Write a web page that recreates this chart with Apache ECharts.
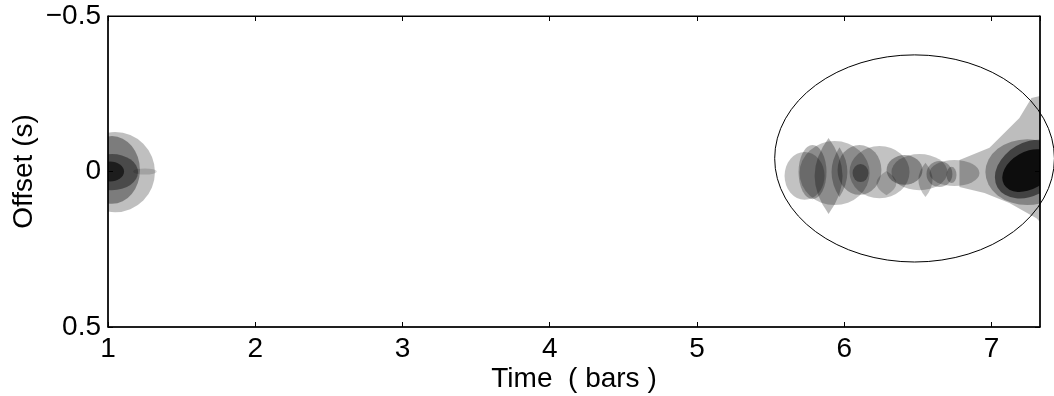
<!DOCTYPE html>
<html><head><meta charset="utf-8">
<script src="https://cdn.jsdelivr.net/npm/echarts@6/dist/echarts.min.js"></script>
<style>html,body{margin:0;padding:0;background:#fff}#c{width:1054px;height:396px}</style>
</head><body><div id="c"></div>
<script>
// X axis (time in bars) and Y axis (offset in seconds)
const xTicks = [1, 2, 3, 4, 5, 6, 7];
const xRange = [1, 7.33];
const yTicks = [-0.5, 0, 0.5];
const yRange = [-0.5, 0.5];

// density blobs: centre (bars, s), half width (bars), half height (s), darkness, shape, tilt (deg)
const blobX = [1.048, 1.027, 1.027, 1.014, 1.251,
  5.731, 5.935, 6.240, 6.511, 6.749,
  5.785, 5.894, 5.968, 6.104, 6.111, 6.410, 6.287, 6.552, 6.647, 6.729,
  7.244, 7.258, 7.250];
const blobY = [0.002, -0.005, 0.002, 0.000, 0.000,
  0.014, 0.005, 0.002, 0.002, 0.005,
  0.002, 0.0145, 0.002, -0.005, 0.005, -0.005, 0.037, 0.027, 0.008, 0.011,
  0.002, -0.008, -0.003];
const blobW = [0.271, 0.190, 0.177, 0.095, 0.081,
  0.136, 0.238, 0.204, 0.190, 0.170,
  0.095, 0.095, 0.054, 0.149, 0.054, 0.122, 0.068, 0.048, 0.088, 0.034,
  0.285, 0.250, 0.190];
const blobH = [0.129, 0.109, 0.058, 0.032, 0.010,
  0.077, 0.103, 0.084, 0.058, 0.042,
  0.087, 0.122, 0.080, 0.080, 0.029, 0.048, 0.039, 0.055, 0.042, 0.026,
  0.106, 0.085, 0.060];
const blobDark = [0.25, 0.35, 0.4, 0.6, 0.15,
  0.24, 0.24, 0.24, 0.24, 0.24,
  0.28, 0.28, 0.28, 0.28, 0.35, 0.32, 0.2, 0.24, 0.28, 0.28,
  0.3, 0.5, 0.8];
const blobShape = ['e', 'e', 'e', 'e', 'e',
  'e', 'e', 'e', 'e', 'e',
  'e', 'l', 'l', 'e', 'e', 'e', 'l', 'l', 'e', 'e',
  'e', 'e', 'e'];
const blobTilt = [0, 0, 0, 0, 0,
  0, 0, 0, 0, 0,
  0, 0, 0, 0, 0, 0, 0, 0, 0, 0,
  0, -30, -30];

// light wedge at the right end
const wedgeX = [6.783, 6.987, 7.190, 7.272, 7.33, 7.33, 7.306, 7.122, 6.953, 6.783];
const wedgeY = [-0.037, -0.076, -0.172, -0.236, -0.243, 0.162, 0.150, 0.101, 0.069, 0.050];
const wedgeDark = 0.26;

// annotation ellipse: centre, half width, half height
const ringC = [6.478, -0.042];
const ringR = [0.950, 0.333];

const blobData = blobX.map((x, i) => [x, blobY[i], blobW[i], blobH[i], blobDark[i], blobShape[i] === 'l' ? 1 : 0, blobTilt[i]]);

function ellPath(rx, ry) {
  return 'M ' + (-rx) + ' 0 A ' + rx + ' ' + ry + ' 0 1 0 ' + rx + ' 0 A ' + rx + ' ' + ry + ' 0 1 0 ' + (-rx) + ' 0 Z';
}
function lensPath(w, h) {
  return 'M 0 ' + (-h) + ' Q ' + (2 * w) + ' 0 0 ' + h + ' Q ' + (-2 * w) + ' 0 0 ' + (-h) + ' Z';
}
function clipRect(params) {
  const cs = params.coordSys;
  return {type: 'rect', shape: {x: cs.x, y: cs.y, width: cs.width, height: cs.height}};
}

const font = 'Liberation Sans, Arial, Helvetica, sans-serif';
const fmtY = v => (v < 0 ? '\u2212' + Math.abs(v) : String(v));

const chart = echarts.init(document.getElementById('c'), null, {renderer: 'canvas'});
chart.setOption({
  backgroundColor: '#fff',
  animation: false,
  grid: {left: 108, top: 16, right: 14, bottom: 69, containLabel: false, outerBoundsMode: 'none',
    show: true, borderColor: '#000', borderWidth: 1, backgroundColor: 'transparent'},
  xAxis: [{
    type: 'value', min: xRange[0], max: xRange[1], interval: 1, position: 'bottom',
    axisLine: {show: true, onZero: false, lineStyle: {color: '#000', width: 1.5}},
    axisTick: {show: true, inside: true, length: 5, lineStyle: {color: '#000'}},
    axisLabel: {color: '#000', fontSize: 28, fontFamily: font, margin: 8,
      formatter: v => (xTicks.indexOf(v) >= 0 ? String(v) : ''), showMaxLabel: false},
    splitLine: {show: false},
    name: 'Time  ( bars )', nameLocation: 'middle', nameGap: 38, nameMoveOverlap: false,
    nameTextStyle: {color: '#000', fontSize: 28, fontFamily: font}
  }, {
    type: 'value', min: xRange[0], max: xRange[1], interval: 1, position: 'top',
    axisLine: {show: true, onZero: false, lineStyle: {color: '#000', width: 1}},
    axisTick: {show: true, inside: true, length: 5, lineStyle: {color: '#000'}},
    axisLabel: {show: false}, splitLine: {show: false}
  }],
  yAxis: [{
    type: 'value', min: yRange[0], max: yRange[1], interval: 0.5, inverse: true, position: 'left',
    axisLine: {show: true, onZero: false, lineStyle: {color: '#000', width: 1.5}},
    axisTick: {show: true, inside: true, length: 5, lineStyle: {color: '#000'}},
    axisLabel: {color: '#000', fontSize: 28, fontFamily: font, margin: 7,
      formatter: v => (yTicks.indexOf(v) >= 0 ? fmtY(v) : '')},
    splitLine: {show: false},
    name: 'Offset (s)', nameLocation: 'middle', nameGap: 70, nameRotate: 90, nameMoveOverlap: false,
    nameTextStyle: {color: '#000', fontSize: 28, fontFamily: font}
  }, {
    type: 'value', min: yRange[0], max: yRange[1], interval: 0.5, inverse: true, position: 'right',
    axisLine: {show: true, onZero: false, lineStyle: {color: '#000', width: 1.5}},
    axisTick: {show: true, inside: true, length: 5, lineStyle: {color: '#000'}},
    axisLabel: {show: false}, splitLine: {show: false}
  }],
  series: [{
    type: 'custom', clip: true, xAxisIndex: 0, yAxisIndex: 0,
    data: [[wedgeX[0], wedgeY[0]]],
    encode: {x: 0, y: 1},
    renderItem: function (params, api) {
      const pts = wedgeX.map((x, i) => api.coord([x, wedgeY[i]]));
      return {type: 'group', clipPath: clipRect(params), children: [
        {type: 'polygon', shape: {points: pts}, style: {fill: 'rgba(0,0,0,' + wedgeDark + ')', stroke: null}}
      ]};
    },
    z: 2
  }, {
    type: 'custom', clip: true, xAxisIndex: 0, yAxisIndex: 0,
    data: blobData,
    encode: {x: 0, y: 1},
    renderItem: function (params, api) {
      const c = api.coord([api.value(0), api.value(1)]);
      const s = api.size([api.value(2), api.value(3)]);
      const w = Math.abs(s[0]), h = Math.abs(s[1]);
      const lens = api.value(5) === 1;
      return {type: 'group', clipPath: clipRect(params), children: [{
        type: 'path', x: c[0], y: c[1], rotation: -api.value(6) * Math.PI / 180,
        shape: {pathData: lens ? lensPath(w, h) : ellPath(w, h)},
        style: {fill: 'rgba(0,0,0,' + api.value(4) + ')', stroke: null}
      }]};
    },
    z: 3
  }, {
    type: 'custom', clip: false, xAxisIndex: 0, yAxisIndex: 0,
    data: [[ringC[0], ringC[1], ringR[0], ringR[1]]],
    encode: {x: 0, y: 1},
    renderItem: function (params, api) {
      const c = api.coord([api.value(0), api.value(1)]);
      const s = api.size([api.value(2), api.value(3)]);
      return {
        type: 'path', x: c[0], y: c[1],
        shape: {pathData: ellPath(Math.abs(s[0]), Math.abs(s[1]))},
        style: {fill: null, stroke: '#000', lineWidth: 1}
      };
    },
    z: 5
  }]
});
</script></body></html>
